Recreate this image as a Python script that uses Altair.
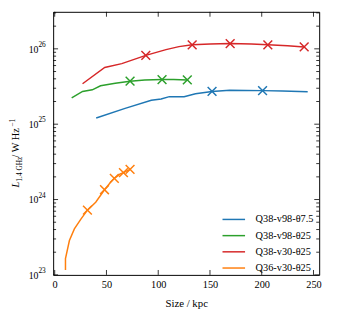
import altair as alt
import pandas as pd

series = ["Q38-v98-θ7.5", "Q38-v98-θ25", "Q38-v30-θ25", "Q36-v30-θ25"]
colors = ["#1f77b4", "#2ca02c", "#d62728", "#ff7f0e"]

# Q38-v98-θ7.5 (blue)
blue_size = [40.1, 68.0, 93.3, 102.8, 110.7, 125.0, 136.0, 152.0, 169.0, 185.0, 200.8, 220.0, 244.4]
blue_lum = [1.21e25, 1.62e25, 2.08e25, 2.16e25, 2.32e25, 2.32e25, 2.54e25, 2.72e25, 2.82e25, 2.80e25, 2.79e25, 2.75e25, 2.69e25]
blue_mk_size = [152.0, 200.8]
blue_mk_lum = [2.72e25, 2.79e25]

# Q38-v98-θ25 (green)
green_size = [16.4, 26.9, 36.3, 44.3, 58.5, 72.8, 87.0, 103.7, 115.0, 128.1]
green_lum = [2.23e25, 2.72e25, 2.86e25, 3.24e25, 3.49e25, 3.72e25, 3.85e25, 3.91e25, 3.91e25, 3.87e25]
green_mk_size = [72.8, 103.7, 128.1]
green_mk_lum = [3.72e25, 3.91e25, 3.87e25]

# Q38-v30-θ25 (red)
red_size = [26.9, 48.3, 64.8, 88.0, 107.5, 120.0, 132.8, 150.2, 169.5, 190.0, 205.9, 225.0, 241.0]
red_lum = [3.44e25, 5.65e25, 6.37e25, 8.2e25, 9.77e25, 1.07e26, 1.13e26, 1.16e26, 1.175e26, 1.16e26, 1.13e26, 1.10e26, 1.06e26]
red_mk_size = [88.0, 132.8, 169.5, 205.9, 241.0]
red_mk_lum = [8.2e25, 1.13e26, 1.175e26, 1.13e26, 1.06e26]

# Q36-v30-θ25 (orange)
orange_size = [10.4, 10.4, 14.2, 19.0, 25.3, 31.6, 39.6, 48.1, 53.8, 57.6, 63.3, 66.4, 72.8]
orange_lum = [1.16e23, 1.65e23, 2.86e23, 4.07e23, 5.5e23, 7.24e23, 9.23e23, 1.35e24, 1.68e24, 1.91e24, 2.19e24, 2.28e24, 2.51e24]
orange_mk_size = [31.6, 48.1, 57.6, 66.4, 72.8]
orange_mk_lum = [7.24e23, 1.35e24, 1.91e24, 2.28e24, 2.51e24]

x_ticks = [0, 50, 100, 150, 200, 250]
y_decades = [1e23, 1e24, 1e25, 1e26]
y_exps = ["23", "24", "25", "26"]
y_minor = [m * d for d in [1e23, 1e24, 1e25] for m in range(2, 10)] + [2e26, 3e26]

X_DOMAIN = [-1.5, 255.5]
Y_DOMAIN = [1e23, 3.1e26]
W, H = 271, 268
FONT = "Liberation Serif"

rows = []
mk_rows = []
for name, xs_, ys_, mxs, mys in [
    (series[0], blue_size, blue_lum, blue_mk_size, blue_mk_lum),
    (series[1], green_size, green_lum, green_mk_size, green_mk_lum),
    (series[2], red_size, red_lum, red_mk_size, red_mk_lum),
    (series[3], orange_size, orange_lum, orange_mk_size, orange_mk_lum),
]:
    for i, (a, b) in enumerate(zip(xs_, ys_)):
        rows.append({"series": name, "size": a, "lum": b, "i": i})
    for a, b in zip(mxs, mys):
        mk_rows.append({"series": name, "size": a, "lum": b})

df = pd.DataFrame(rows)
dfm = pd.DataFrame(mk_rows)

xs = alt.Scale(domain=X_DOMAIN, nice=False, zero=False)
ys = alt.Scale(type="log", domain=Y_DOMAIN, nice=False)

lines = alt.Chart(df).mark_line(strokeWidth=1.5).encode(
    x=alt.X("size:Q", scale=xs,
            axis=alt.Axis(title="Size / kpc", values=x_ticks, ticks=False, domain=False, grid=False,
                          labelFont=FONT, labelFontSize=10.5, labelColor="black", labelPadding=5,
                          titleFont=FONT, titleFontSize=11, titleFontWeight="normal",
                          titleColor="black", titlePadding=8)),
    y=alt.Y("lum:Q", scale=ys,
            axis=alt.Axis(title="", values=y_decades, labels=False, ticks=False, domain=False, grid=False)),
    color=alt.Color("series:N", scale=alt.Scale(domain=series, range=colors),
                    legend=alt.Legend(title=None, orient="none", legendX=177.5, legendY=205,
                                      symbolType="M-2,0L2,0", symbolSize=132, symbolStrokeWidth=1.5,
                                      labelFont=FONT, labelFontSize=10.5, labelColor="black",
                                      labelOffset=15.75, rowPadding=4.5, padding=0)),
    order="i:Q",
)

markers = alt.Chart(dfm).mark_point(
    shape="M-1,-1L1,1M-1,1L1,-1", filled=False, size=80, strokeWidth=1.5, opacity=1
).encode(
    x=alt.X("size:Q", scale=xs),
    y=alt.Y("lum:Q", scale=ys),
    color=alt.Color("series:N", scale=alt.Scale(domain=series, range=colors), legend=None),
)

# inward ticks
dmaj = pd.DataFrame({"lum": y_decades})
dmin = pd.DataFrame({"lum": y_minor})
dx = pd.DataFrame({"size": x_ticks})

def yrule(data, x1, x2):
    return alt.Chart(data).mark_rule(color="black", strokeWidth=0.8).encode(
        y=alt.Y("lum:Q", scale=ys), x=alt.value(x1), x2=alt.value(x2))

def xrule(data, y1, y2):
    return alt.Chart(data).mark_rule(color="black", strokeWidth=0.8).encode(
        x=alt.X("size:Q", scale=xs), y=alt.value(y1), y2=alt.value(y2))

ticks = [
    yrule(dmaj, 0, 5), yrule(dmaj, W - 5, W),
    yrule(dmin, 0, 3), yrule(dmin, W - 3, W),
    xrule(dx, H - 5, H), xrule(dx, 0, 5),
]

# y tick labels 10^n
dlab = pd.DataFrame({"lum": y_decades, "exp": y_exps})
ten = alt.Chart(dlab).mark_text(font=FONT, fontSize=10, align="right", baseline="middle",
                                dy=1, color="black").encode(
    y=alt.Y("lum:Q", scale=ys), x=alt.value(-15), text=alt.value("10"))
sup = alt.Chart(dlab).mark_text(font=FONT, fontSize=7.5, align="left", baseline="middle",
                                dy=-4, color="black").encode(
    y=alt.Y("lum:Q", scale=ys), x=alt.value(-15), text="exp:N")

# y axis title built from pieces (rotated)
one = pd.DataFrame({"k": [0]})
def piece(txt, size, dxv, dyv, style="normal"):
    return alt.Chart(one).mark_text(font=FONT, fontSize=size, angle=270, align="left",
                                    baseline="alphabetic", dx=dxv, dy=dyv, fontStyle=style,
                                    color="black").encode(
        x=alt.value(-34.5), y=alt.value(179), text=alt.value(txt))

ylabel = [
    piece("L", 10.5, 0, 0, "italic"),
    piece("1.4 GHz", 7.5, 6, 2.5),
    piece(" / W Hz", 10.5, 30.5, 0),
    piece("−1", 7.5, 62, -4.5),
]

chart = alt.layer(lines, markers, *ticks, ten, sup, *ylabel).resolve_scale(
    color="independent"
).properties(
    width=W, height=H,
    autosize=alt.AutoSizeParams(type="none"),
    padding={"left": 46, "top": 1, "right": 10, "bottom": 40},
).configure_view(stroke="black", strokeWidth=1)

chart.save("out.html", embed_options={"renderer": "svg", "actions": False})
